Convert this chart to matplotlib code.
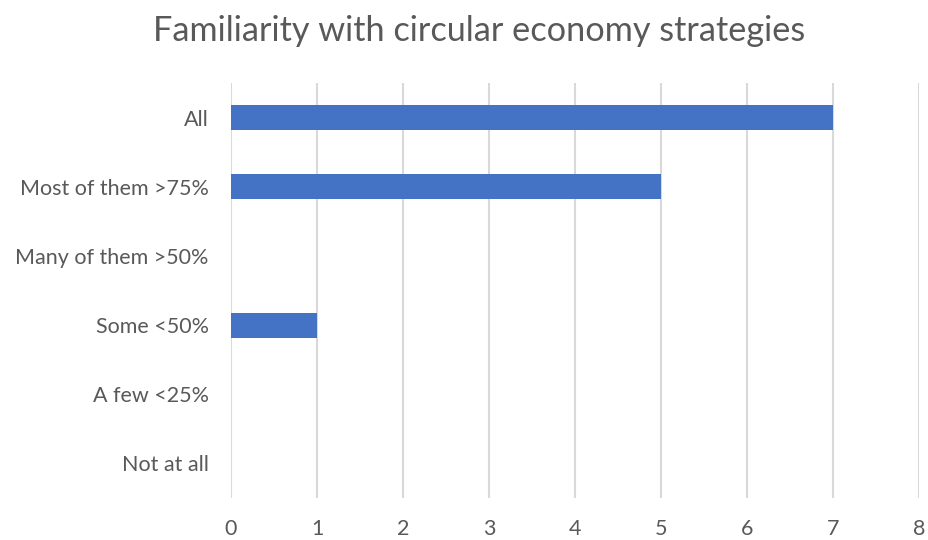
import matplotlib
matplotlib.use("Agg")
import matplotlib.pyplot as plt

categories = ["All", "Most of them >75%", "Many of them >50%", "Some <50%", "A few <25%", "Not at all"]
counts = [7, 5, 0, 1, 0, 0]
x_ticks = [0, 1, 2, 3, 4, 5, 6, 7, 8]

text_color = "#595959"
bar_color = "#4472C4"
grid_color = "#D9D9D9"

plt.rcParams["font.family"] = ["Lato", "DejaVu Sans"]

fig = plt.figure(figsize=(9.29, 5.40), dpi=100)
ax = fig.add_axes([0.2487, 0.0778, 0.9892 - 0.2487, 0.8463 - 0.0778])

positions = list(range(len(categories)))
ax.barh(positions, counts, height=0.36, color=bar_color, zorder=3)

ax.set_xlim(0, 8)
ax.set_ylim(len(categories) - 0.5, -0.5)
ax.set_xticks(x_ticks)
ax.set_xticklabels([str(t) for t in x_ticks])
ax.set_yticks(positions)
ax.set_yticklabels(categories)

ax.grid(axis="x", color=grid_color, linewidth=1.5, zorder=0)
ax.tick_params(axis="both", length=0, labelsize=15.5, colors=text_color)
ax.tick_params(axis="x", pad=15)
ax.tick_params(axis="y", pad=16)
for side in ax.spines.values():
    side.set_visible(False)

fig.text(0.5154, 0.942, "Familiarity with circular economy strategies",
         fontsize=24.7, color=text_color, ha="center", va="center")

fig.savefig("out.png", dpi=100)
